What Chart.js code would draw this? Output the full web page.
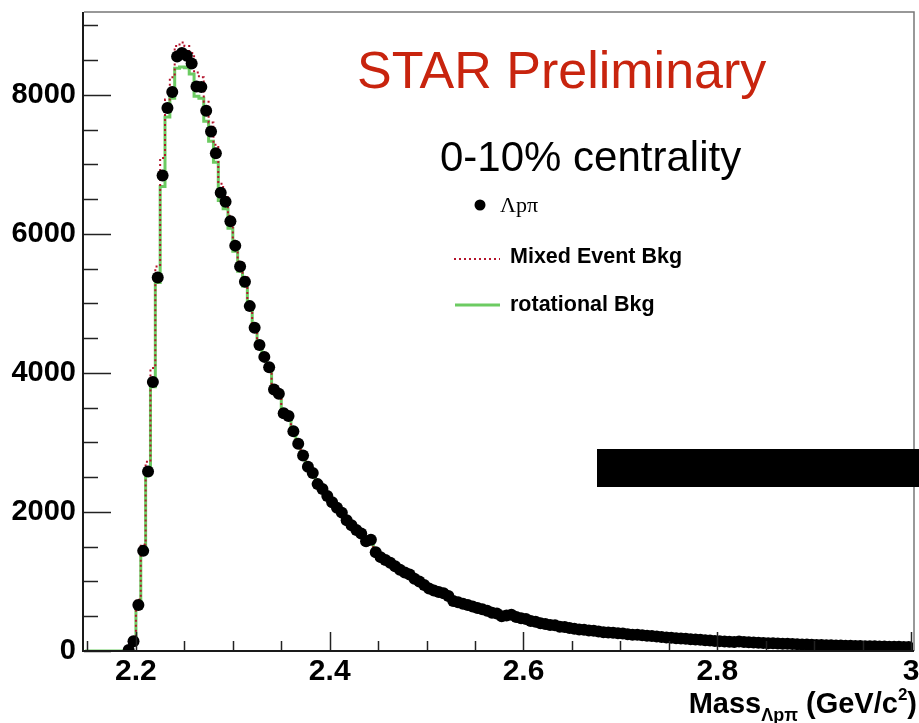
<!DOCTYPE html>
<html>
<head>
<meta charset="utf-8">
<script src="https://cdn.jsdelivr.net/npm/chart.js@4.4.0/dist/chart.umd.min.js"></script>
<style>
  html, body { margin: 0; padding: 0; background: #fff; }
  #massChart { display: block; }
</style>
</head>
<body>
<canvas id="massChart" width="919" height="723"></canvas>
<script>
// histogram binning, GeV/c^2
const binLow = 2.145;
const binWidth = 0.005;

// counts per bin (empty bins below threshold are null for the data)
const signalCounts = [
  null, null, null, null, null, null, null, null, null,
  15, 140, 660, 1440, 2580, 3870, 5370, 6840, 7810, 8040,
  8550, 8600, 8560, 8450, 8120, 8110, 7770, 7470, 7160, 6590,
  6460, 6180, 5830, 5530, 5310, 4960, 4650, 4400, 4230, 4080,
  3760, 3700, 3420, 3380, 3160, 2980, 2810, 2650, 2560, 2400,
  2330, 2230, 2140, 2060, 1990, 1880, 1810, 1740, 1690, 1580,
  1600, 1420, 1350, 1310, 1270, 1220, 1170, 1130, 1100, 1040,
  1000, 950, 900, 870, 850, 830, 790, 720, 700, 680,
  660, 640, 620, 600, 580, 550, 540, 500, 510, 520,
  490, 470, 460, 430, 420, 400, 390, 375, 370, 350,
  345, 330, 320, 310, 305, 295, 290, 280, 270, 265,
  262, 255, 250, 240, 235, 232, 225, 220, 215, 210,
  200, 195, 190, 185, 180, 175, 170, 165, 160, 155,
  150, 145, 142, 138, 133, 130, 135, 128, 125, 122,
  118, 115, 112, 110, 108, 105, 103, 100, 98, 95,
  92, 90, 88, 86, 83, 82, 80, 78, 76, 74,
  73, 71, 70, 68, 67, 65, 64, 62, 61, 60,
  58, 57
];

const mixedBkg = [
  0, 0, 0, 0, 0, 0, 0, 0, 0,
  20, 180, 740, 1530, 2720, 4070, 5530, 7090, 7930, 8250,
  8700, 8750, 8700, 8600, 8320, 8250, 7900, 7600, 7280, 6720,
  6550, 6260, 5900, 5600, 5380, 5020, 4700, 4450, 4270, 4110,
  3800, 3720, 3440, 3390, 3170, 2990, 2820, 2660, 2570, 2410,
  2335, 2235, 2150, 2065, 1995, 1890, 1815, 1745, 1690, 1590,
  1590, 1430, 1355, 1315, 1270, 1225, 1175, 1135, 1100, 1045,
  1005, 955, 905, 875, 850, 830, 795, 725, 705, 685,
  660, 645, 620, 605, 580, 555, 540, 505, 510, 520,
  495, 470, 460, 435, 420, 405, 390, 378, 370, 352,
  345, 332, 320, 312, 305, 297, 290, 282, 270, 266,
  262, 256, 250, 242, 235, 233, 225, 221, 215, 211,
  201, 196, 190, 186, 180, 176, 170, 166, 160, 156,
  151, 146, 142, 139, 133, 131, 134, 129, 125, 123,
  118, 116, 112, 111, 108, 106, 103, 101, 98, 96,
  92, 91, 88, 87, 83, 83, 80, 79, 76, 75,
  73, 72, 70, 69, 67, 66, 64, 63, 61, 60,
  58, 58
];

const rotBkg = [
  0, 0, 0, 0, 0, 0, 0, 0, 0,
  10, 120, 620, 1400, 2530, 3800, 5300, 6680, 7680, 7950,
  8380, 8400, 8390, 8300, 7980, 7950, 7620, 7330, 7030, 6480,
  6360, 6080, 5750, 5460, 5250, 4910, 4610, 4370, 4200, 4050,
  3740, 3680, 3400, 3360, 3150, 2970, 2800, 2640, 2550, 2395,
  2325, 2225, 2135, 2055, 1985, 1875, 1805, 1735, 1685, 1580,
  1590, 1415, 1345, 1305, 1265, 1215, 1165, 1125, 1095, 1035,
  995, 945, 895, 865, 845, 825, 785, 718, 698, 678,
  658, 638, 618, 598, 578, 548, 538, 500, 508, 518,
  488, 468, 458, 428, 418, 398, 388, 373, 368, 348,
  343, 328, 318, 308, 303, 293, 288, 278, 268, 263,
  260, 253, 248, 238, 233, 230, 223, 218, 213, 208,
  198, 193, 188, 183, 178, 173, 168, 163, 158, 153,
  148, 143, 140, 136, 131, 128, 133, 126, 123, 120,
  116, 113, 110, 108, 106, 103, 101, 98, 96, 93,
  90, 88, 86, 84, 81, 80, 78, 76, 74, 72,
  71, 69, 68, 66, 65, 63, 62, 60, 59, 58,
  56, 55
];

const xTickLabels = [2.2, 2.4, 2.6, 2.8, 3.0];
const yTickLabels = [0, 2000, 4000, 6000, 8000];
const seriesLabels = ["Λpπ", "Mixed Event Bkg", "rotational Bkg"];

const massBins = signalCounts.map((_, i) => binLow + (i + 0.5) * binWidth);
const toXY = arr => arr.map((y, i) => ({ x: massBins[i], y: y }));

const SANS = "'Liberation Sans', Arial, Helvetica, sans-serif";

// ROOT-like frame with inward major/minor ticks
const framePlugin = {
  id: "frame",
  afterDatasetsDraw(chart) {
    const { ctx, chartArea: a, scales: { x, y } } = chart;
    ctx.save();
    ctx.strokeStyle = "#222";
    ctx.lineWidth = 1.5;
    for (let k = 0; k <= 18; k++) {
      const v = k * 500;
      if (v > y.max) break;
      const py = Math.round(y.getPixelForValue(v)) + 0.5;
      const len = k % 4 === 0 ? 27 : 14;
      ctx.beginPath();
      ctx.moveTo(a.left, py);
      ctx.lineTo(a.left + len, py);
      ctx.stroke();
    }
    for (let k = 43; k <= 60; k++) {
      const v = k * 0.05;
      const px = Math.round(x.getPixelForValue(v)) + 0.5;
      const len = k % 4 === 0 ? 19 : 10;
      ctx.beginPath();
      ctx.moveTo(px, a.bottom);
      ctx.lineTo(px, a.bottom - len);
      ctx.stroke();
    }
    // top and right border
    ctx.strokeStyle = "#777";
    ctx.lineWidth = 1.5;
    ctx.beginPath();
    ctx.moveTo(a.left, a.top);
    ctx.lineTo(a.right + 1, a.top);
    ctx.lineTo(a.right + 1, a.bottom);
    ctx.stroke();
    // left and bottom axes
    ctx.strokeStyle = "#1a1a1a";
    ctx.lineWidth = 2;
    ctx.beginPath();
    ctx.moveTo(a.left - 1, a.top);
    ctx.lineTo(a.left - 1, a.bottom);
    ctx.lineTo(a.right + 1, a.bottom);
    ctx.stroke();
    ctx.restore();
  }
};

// labels, legend and axis title
const textPlugin = {
  id: "texts",
  afterDraw(chart) {
    const ctx = chart.ctx;
    const ds = chart.data.datasets;
    ctx.save();
    ctx.textBaseline = "alphabetic";
    ctx.textAlign = "left";

    ctx.fillStyle = "#c8240e";
    ctx.font = "52px " + SANS;
    ctx.fillText("STAR Preliminary", 357, 88);

    ctx.fillStyle = "#000";
    ctx.font = "42px " + SANS;
    ctx.fillText("0-10% centrality", 440, 171);

    // legend
    ctx.fillStyle = ds[0].pointBackgroundColor;
    ctx.beginPath();
    ctx.arc(480, 205, 5.5, 0, Math.PI * 2);
    ctx.fill();
    ctx.fillStyle = "#000";
    ctx.font = "22px 'Liberation Serif', 'Times New Roman', serif";
    ctx.fillText(seriesLabels[0], 500, 212);

    ctx.strokeStyle = ds[1].borderColor;
    ctx.lineWidth = ds[1].borderWidth;
    ctx.setLineDash(ds[1].borderDash);
    ctx.beginPath();
    ctx.moveTo(454, 259);
    ctx.lineTo(500, 259);
    ctx.stroke();
    ctx.setLineDash([]);
    ctx.font = "bold 21.5px " + SANS;
    ctx.fillText(seriesLabels[1], 510, 263);

    ctx.strokeStyle = ds[2].borderColor;
    ctx.lineWidth = ds[2].borderWidth;
    ctx.beginPath();
    ctx.moveTo(455, 305);
    ctx.lineTo(500, 305);
    ctx.stroke();
    ctx.fillText(seriesLabels[2], 510, 311);

    // x axis title: Mass_{Λpπ} (GeV/c^2)
    const parts = [
      { t: "Mass", f: "bold 29px " + SANS, dy: 0 },
      { t: "Λpπ", f: "bold 18px " + SANS, dy: 8 },
      { t: " (GeV/c", f: "bold 29px " + SANS, dy: 0 },
      { t: "2", f: "bold 17px " + SANS, dy: -13 },
      { t: ")", f: "bold 29px " + SANS, dy: 0 }
    ];
    let total = 0;
    parts.forEach(p => { ctx.font = p.f; p.w = ctx.measureText(p.t).width; total += p.w; });
    let cx = 917 - total;
    parts.forEach(p => {
      ctx.font = p.f;
      ctx.fillText(p.t, cx, 713 + p.dy);
      cx += p.w;
    });

    // black box present in the original figure
    ctx.fillStyle = "#000";
    ctx.fillRect(597, 449, 322, 38);
    ctx.restore();
  }
};

const ctx = document.getElementById("massChart").getContext("2d");
new Chart(ctx, {
  type: "line",
  data: {
    datasets: [
      {
        label: seriesLabels[0],
        data: toXY(signalCounts),
        showLine: false,
        pointRadius: 6,
        pointBackgroundColor: "#000",
        pointBorderWidth: 0,
        order: 0
      },
      {
        label: seriesLabels[1],
        data: toXY(mixedBkg),
        stepped: "middle",
        borderColor: "#b3122b",
        borderWidth: 2,
        borderDash: [2, 3],
        pointRadius: 0,
        fill: false,
        order: 1
      },
      {
        label: seriesLabels[2],
        data: toXY(rotBkg),
        stepped: "middle",
        borderColor: "#6ccb62",
        borderWidth: 3,
        pointRadius: 0,
        fill: false,
        order: 2
      }
    ]
  },
  options: {
    responsive: false,
    animation: false,
    events: [],
    layout: { padding: { top: 12, right: 5, left: 0, bottom: 0 } },
    plugins: {
      legend: { display: false },
      tooltip: { enabled: false }
    },
    scales: {
      x: {
        type: "linear",
        min: 2.1464,
        max: 3.002,
        afterBuildTicks: axis => { axis.ticks = xTickLabels.map(v => ({ value: v })); },
        afterFit: scale => {
          scale.height = 72;
          scale.paddingLeft = 0;
          scale.paddingRight = 0;
        },
        grid: { display: false, drawTicks: false },
        border: { display: false },
        ticks: {
          padding: 3,
          color: "#000",
          font: { family: SANS, size: 30, weight: "bold" },
          maxRotation: 0,
          autoSkip: false,
          callback: v => String(Math.round(v * 10) / 10)
        }
      },
      y: {
        type: "linear",
        min: 0,
        max: 9190,
        afterBuildTicks: axis => { axis.ticks = yTickLabels.map(v => ({ value: v })); },
        afterFit: scale => {
          scale.width = 84;
          scale.paddingTop = 0;
          scale.paddingBottom = 0;
        },
        grid: { display: false, drawTicks: false },
        border: { display: false },
        ticks: {
          padding: 8,
          color: "#000",
          font: { family: SANS, size: 29, weight: "bold" },
          callback: v => String(v)
        }
      }
    }
  },
  plugins: [framePlugin, textPlugin]
});
</script>
</body>
</html>
